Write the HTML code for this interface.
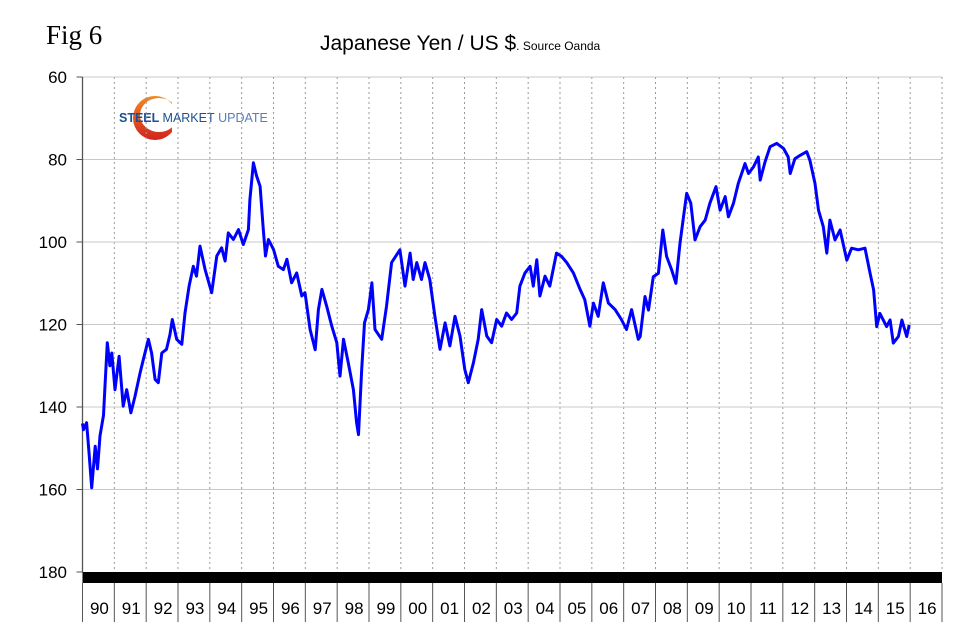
<!DOCTYPE html>
<html><head><meta charset="utf-8"><style>
body{margin:0;background:#fff;}
svg{display:block;font-family:"Liberation Sans",sans-serif;}
</style></head><body>
<svg id="c" width="958" height="639">
<defs>
<linearGradient id="lg" x1="0" y1="0" x2="0" y2="1"><stop offset="0" stop-color="#f08a24"/><stop offset="1" stop-color="#d2231c"/></linearGradient>
<clipPath id="cp"><rect x="120" y="90" width="52" height="60"/></clipPath>
</defs>
<text x="46" y="44" font-family="Liberation Serif,serif" font-size="27" fill="#000">Fig 6</text>
<text x="320" y="50" font-size="21" fill="#000">Japanese Yen / US $<tspan font-size="12">. Source Oanda</tspan></text>
<g>
<path clip-path="url(#cp)" fill-rule="evenodd" fill="url(#lg)" d="M133,118 a22,22 0 1 0 44,0 a22,22 0 1 0 -44,0 Z M140,115 a19,17 0 1 0 38,0 a19,17 0 1 0 -38,0 Z"/>
<text x="119" y="122" font-size="12.5" font-weight="bold" fill="#1d4f91">STEEL <tspan font-weight="normal">MARKET</tspan> <tspan font-weight="normal" fill="#5a7db8">UPDATE</tspan></text>
</g>
<g id="grid"></g>
<g id="axes"></g>
<g id="series"></g>
</svg>
<script>
const yTicks=[60,80,100,120,140,160,180];
const yearLabels=["90","91","92","93","94","95","96","97","98","99","00","01","02","03","04","05","06","07","08","09","10","11","12","13","14","15","16"];
const dates=[1990.0,1990.03,1990.13,1990.2,1990.29,1990.4,1990.47,1990.55,1990.66,1990.7,1990.78,1990.86,1990.92,1991.02,1991.15,1991.28,1991.39,1991.52,1991.65,1991.81,1991.91,1992.07,1992.17,1992.28,1992.38,1992.49,1992.64,1992.75,1992.82,1992.96,1993.12,1993.22,1993.35,1993.48,1993.58,1993.69,1993.85,1994.06,1994.22,1994.37,1994.48,1994.58,1994.74,1994.9,1995.05,1995.21,1995.26,1995.37,1995.47,1995.58,1995.68,1995.75,1995.84,1996.0,1996.15,1996.31,1996.42,1996.57,1996.73,1996.89,1996.99,1997.15,1997.31,1997.41,1997.52,1997.67,1997.83,1997.99,1998.09,1998.2,1998.35,1998.51,1998.61,1998.67,1998.77,1998.86,1998.98,1999.09,1999.19,1999.4,1999.55,1999.71,1999.97,2000.13,2000.29,2000.39,2000.5,2000.65,2000.76,2000.91,2001.07,2001.23,2001.39,2001.54,2001.7,2001.86,2002.01,2002.12,2002.28,2002.43,2002.54,2002.7,2002.85,2003.01,2003.17,2003.32,2003.48,2003.64,2003.74,2003.9,2004.06,2004.16,2004.27,2004.37,2004.53,2004.68,2004.89,2005.05,2005.21,2005.42,2005.63,2005.78,2005.94,2006.05,2006.2,2006.36,2006.52,2006.73,2006.93,2007.09,2007.25,2007.46,2007.52,2007.67,2007.78,2007.93,2008.09,2008.23,2008.35,2008.51,2008.64,2008.77,2008.88,2008.98,2009.11,2009.24,2009.4,2009.56,2009.71,2009.9,2010.03,2010.19,2010.29,2010.45,2010.6,2010.81,2010.92,2011.08,2011.23,2011.29,2011.44,2011.6,2011.81,2012.02,2012.17,2012.23,2012.38,2012.54,2012.75,2012.85,2013.01,2013.12,2013.27,2013.38,2013.48,2013.64,2013.8,2014.01,2014.16,2014.37,2014.58,2014.74,2014.85,2014.95,2015.05,2015.26,2015.37,2015.47,2015.63,2015.74,2015.89,2015.97];
const values=[144,145.5,143.8,150.7,159.6,149.5,155,147,142,135.8,124.4,130,126.9,135.8,127.7,139.8,135.8,141.4,137.4,131.7,128.5,123.6,126.9,133.3,134.1,126.9,126,122.4,118.8,123.6,124.8,117.2,110.7,105.9,108.3,101,106.7,112.3,103.4,101.4,104.6,97.8,99.4,97,100.6,97,89.7,80.8,84,86.5,97,103.4,99.4,101.8,105.9,106.7,104.2,109.9,107.5,113.1,112.3,121.2,126.1,116.4,111.5,115.6,120.4,124.4,132.5,123.6,129.3,135.8,143.8,146.7,130.9,119.6,116.4,109.9,121.2,123.6,115.6,105,101.9,110.7,102.7,109.1,105,109.1,105,109.1,118,126,119.6,125.2,118,122.8,130.9,134.1,129.3,123.6,116.4,122.8,124.4,118.8,120.4,117.2,118.8,117.2,110.7,107.5,105.9,110.7,104.3,113.1,108.3,110.7,102.7,103.5,105,107.5,111.5,114,120.4,114.8,118,109.9,114.8,116.4,118.8,121.2,116.4,123.6,122.9,113.2,116.5,108.4,107.6,97.1,103.5,106.8,110,100.3,93.9,88.2,90.6,99.5,96.3,94.7,90.6,86.6,92.3,89,93.9,90.6,85.8,81,83.4,81.8,79.4,85,80.6,76.9,76.1,77.3,79.4,83.4,79.8,79,78.1,80.2,85.8,92.3,96.3,102.7,94.7,99.5,97.1,104.4,101.5,101.9,101.5,107.6,111.6,120.5,117.3,120.5,118.9,124.5,122.9,118.9,122.9,120.1];

const NS="http://www.w3.org/2000/svg";
const L=82.5,R=942,T=77,B=572;
const yMin=60,yMax=180,x0=1990,x1=2017;
function xs(t){return L+(t-x0)/(x1-x0)*(R-L);}
function ys(v){return T+(v-yMin)/(yMax-yMin)*(B-T);}
function mk(tag,attrs,parent){const e=document.createElementNS(NS,tag);for(const k in attrs)e.setAttribute(k,attrs[k]);parent.appendChild(e);return e;}
const grid=document.getElementById('grid'),axes=document.getElementById('axes'),series=document.getElementById('series');
const colW=(R-L)/yearLabels.length;
for(let i=1;i<=yearLabels.length;i++){
  const x=L+i*colW;
  const g=mk('line',{x1:x,x2:x,y1:T,y2:B,stroke:'#999','stroke-dasharray':'2,3','stroke-width':1},grid);
  
  
}
yTicks.forEach(v=>{
  const y=ys(v);
  if(v<yMax){const h=mk('line',{x1:L,x2:R,y1:y,y2:y,stroke:'#c8c8c8','stroke-width':1},grid);
  
  }
  const tk=mk('line',{x1:L-6,x2:L,y1:y,y2:y,stroke:'#555','stroke-width':1},axes);
  
  
  const t=mk('text',{x:67,y:y+6,'text-anchor':'end','font-size':17,fill:'#000'},axes);
  t.textContent=v;
  
  
});
const ya=mk('line',{x1:L,x2:L,y1:T,y2:B,stroke:'#555','stroke-width':1.3},axes);


const bar=mk('rect',{x:L,y:B,width:R-L,height:11,fill:'#000'},axes);


for(let i=0;i<=yearLabels.length;i++){
  const x=L+i*colW;
  const s=mk('line',{x1:x,x2:x,y1:B+11,y2:622,stroke:'#555','stroke-width':1},axes);
  
  
}
yearLabels.forEach((lab,i)=>{
  const t=mk('text',{x:L+(i+0.5)*colW+1,y:614,'text-anchor':'middle','font-size':17,fill:'#000'},axes);
  t.textContent=lab;
  
  
});
let d='';
dates.forEach((t,i)=>{d+=(i?'L':'M')+xs(t).toFixed(1)+','+ys(values[i]).toFixed(1);});
const p=mk('path',{d:d,fill:'none',stroke:'#0000ff','stroke-width':3,'stroke-linejoin':'round'},series);


</script>
</body></html>
